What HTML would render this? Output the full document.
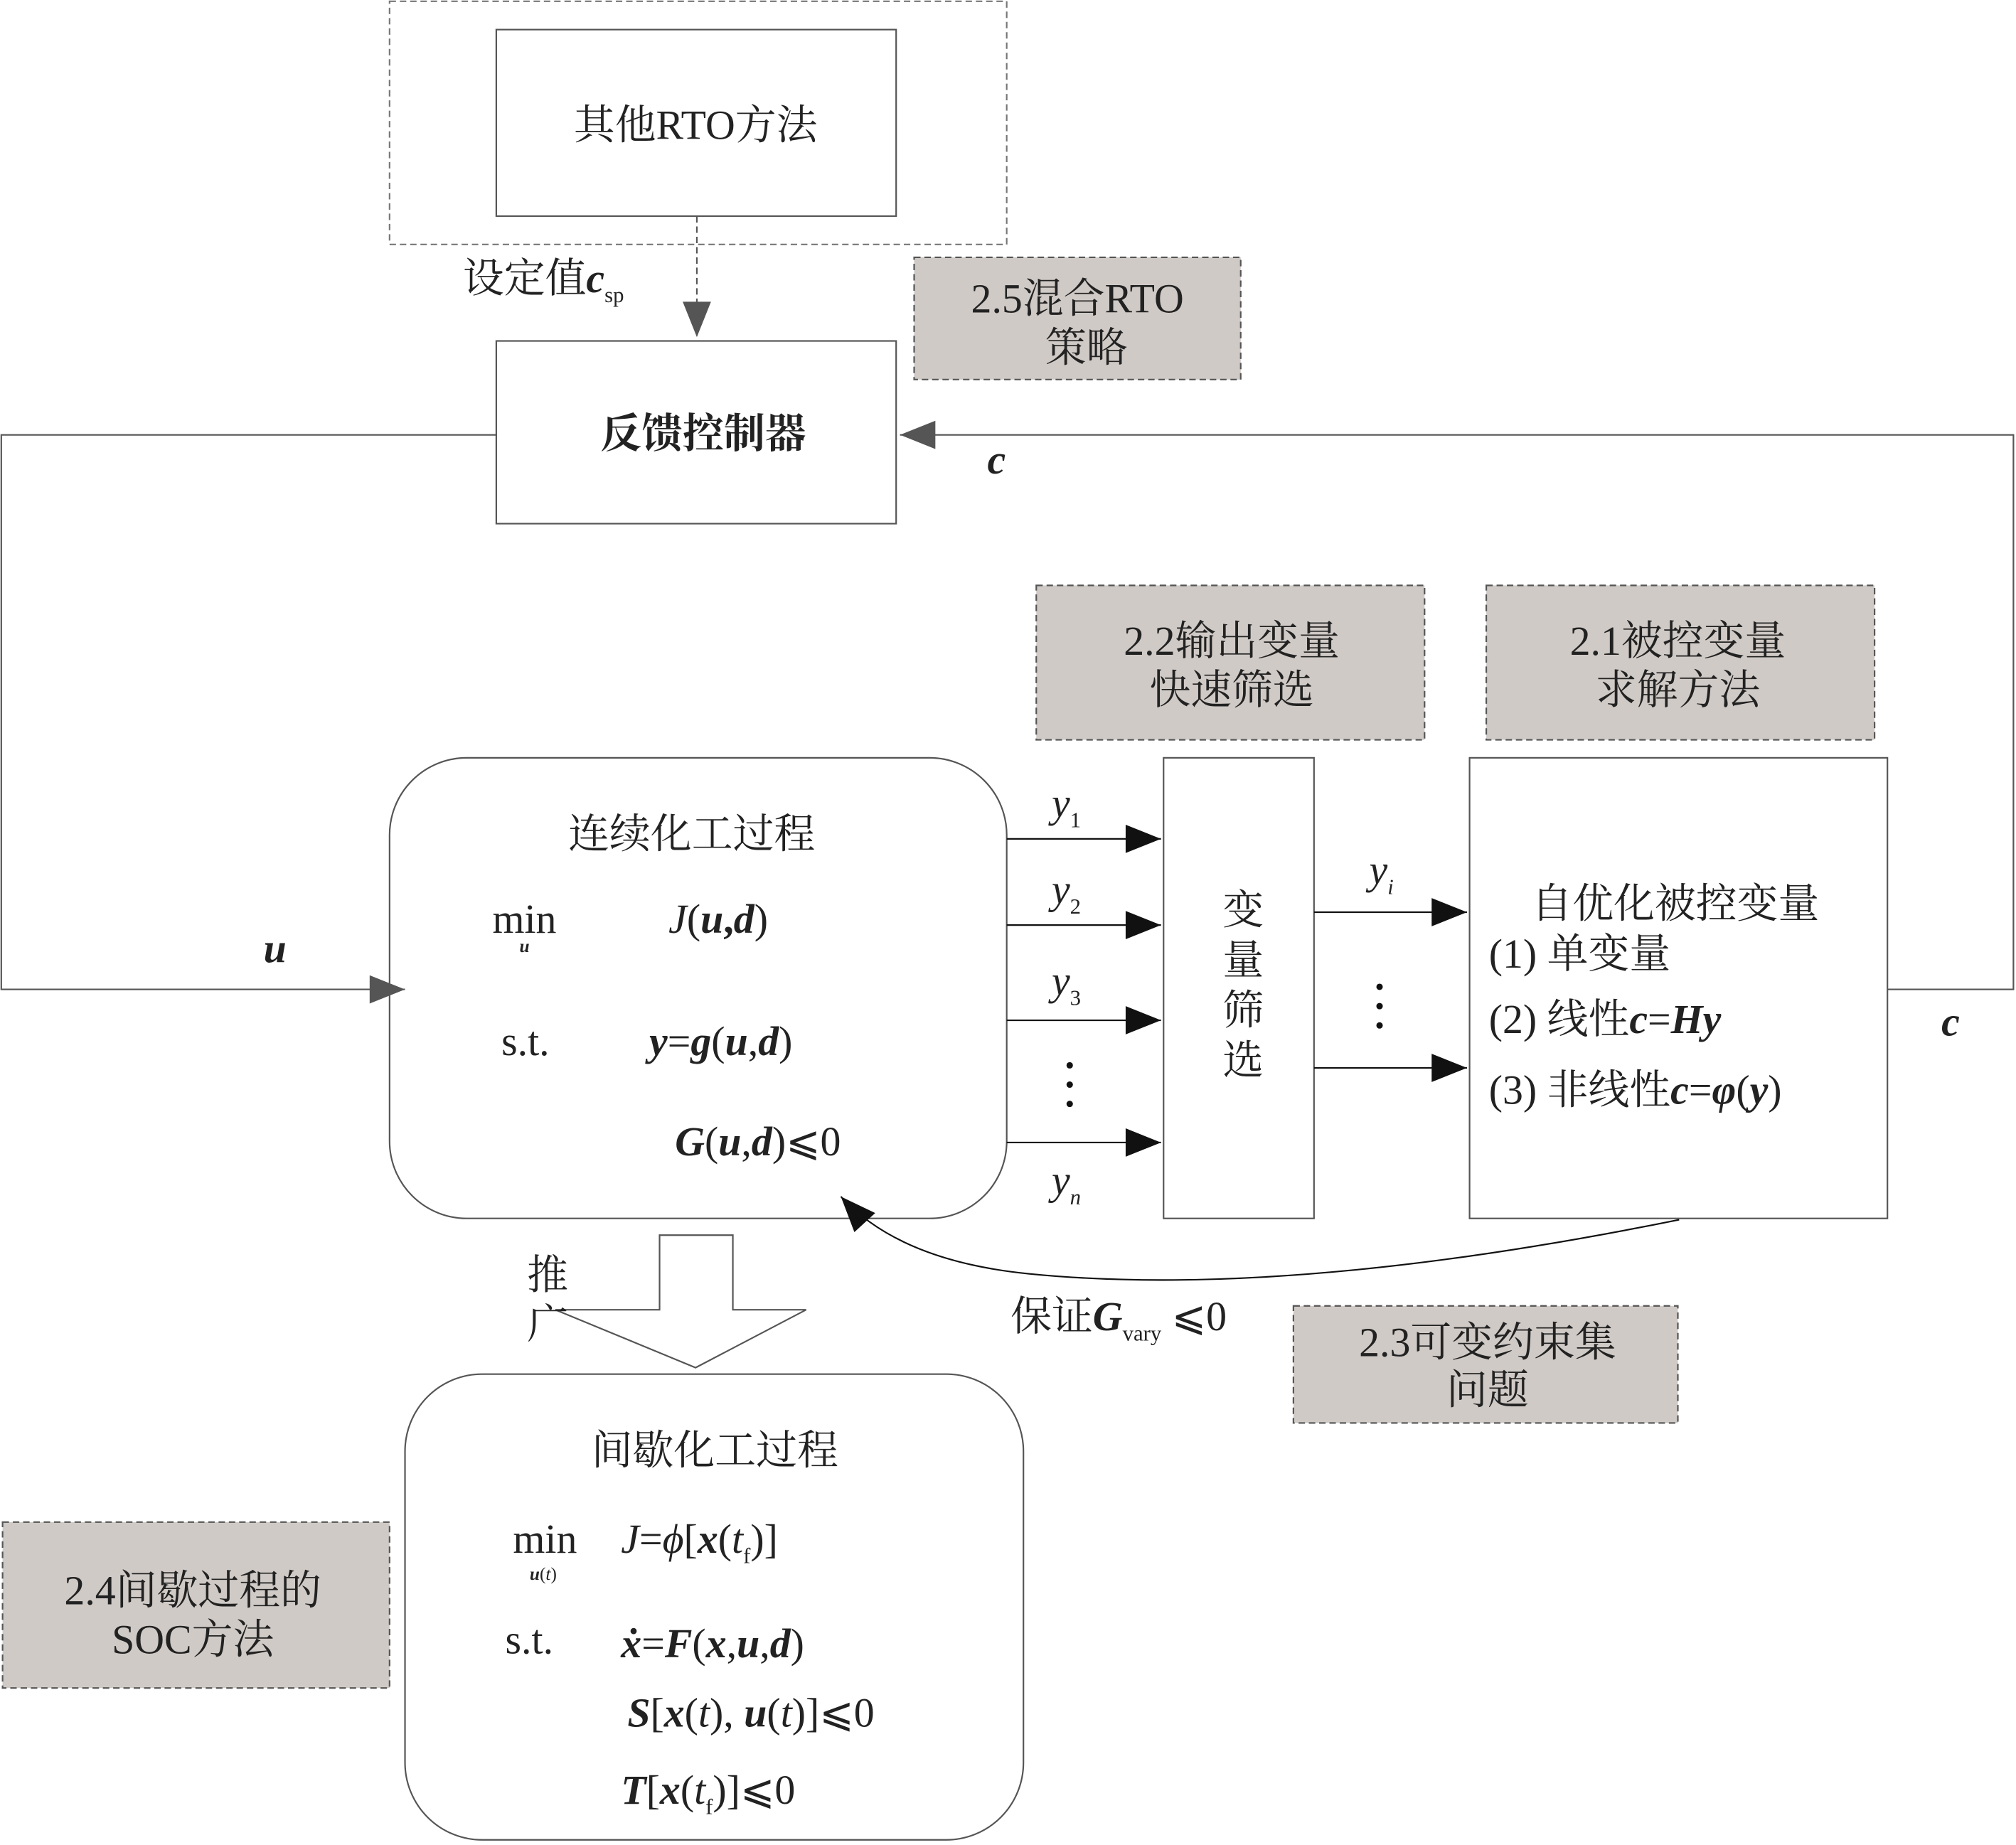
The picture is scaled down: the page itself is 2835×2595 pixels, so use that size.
<!DOCTYPE html>
<html><head><meta charset="utf-8"><style>
html,body{margin:0;padding:0;background:#fff}
svg{display:block}
text{font-family:"Liberation Serif","Noto Serif CJK SC","Noto Sans CJK SC",serif;fill:#222}
.b{font-weight:bold;font-style:italic}
.i{font-style:italic}
</style></head><body>
<svg width="2835" height="2595" viewBox="0 0 1568 1434" preserveAspectRatio="none" xmlns="http://www.w3.org/2000/svg">
<defs>
<marker id="ar" markerWidth="10" markerHeight="8" refX="10" refY="4" orient="auto" markerUnits="userSpaceOnUse" viewBox="0 0 10 8"><path d="M0,0 L10,4 L0,8z" fill="#111"/></marker>
<marker id="arb" viewBox="0 0 10 8" markerWidth="34" markerHeight="22" refX="10" refY="4" orient="auto" markerUnits="userSpaceOnUse"><path d="M0,0 L10,4 L0,8z" fill="#111"/></marker>
<marker id="arg" viewBox="0 0 10 8" markerWidth="34" markerHeight="22" refX="10" refY="4" orient="auto" markerUnits="userSpaceOnUse"><path d="M0,0 L10,4 L0,8z" fill="#555"/></marker>
</defs>
<g fill="none" stroke="#555" stroke-width="1.2">
<rect x="303" y="1" width="480" height="189" stroke-dasharray="5,3" stroke="#777"/>
<rect x="386" y="23" width="311" height="145"/>
<rect x="386" y="265" width="311" height="142"/>
<line x1="542" y1="168" x2="542" y2="262" stroke-dasharray="5,3" marker-end="url(#arg)"/>
<polyline points="386,338 1,338 1,769 315,769" marker-end="url(#arg)"/>
<polyline points="1468,769 1566,769 1566,338 700,338" marker-end="url(#arg)"/>
<rect x="303" y="589" width="480" height="358" rx="60"/>
<rect x="905" y="589" width="117" height="358"/>
<rect x="1143" y="589" width="325" height="358"/>
<rect x="315" y="1068" width="481" height="362" rx="60"/>
<path d="M513,960 L570,960 L570,1018 L627,1018 L541,1063 L432,1018 L513,1018 Z"/>
</g>
<g fill="#d0cac6" stroke="#555" stroke-width="1.2" stroke-dasharray="5,3">
<rect x="711" y="200" width="254" height="95"/>
<rect x="806" y="455" width="302" height="120"/>
<rect x="1156" y="455" width="302" height="120"/>
<rect x="1006" y="1015" width="299" height="91"/>
<rect x="2" y="1183" width="301" height="129"/>
</g>
<g stroke="#111" stroke-width="1.2" fill="none">
<line x1="783" y1="652" x2="903" y2="652" marker-end="url(#arb)"/>
<line x1="783" y1="719" x2="903" y2="719" marker-end="url(#arb)"/>
<line x1="783" y1="793" x2="903" y2="793" marker-end="url(#arb)"/>
<line x1="783" y1="888" x2="903" y2="888" marker-end="url(#arb)"/>
<line x1="1022" y1="709" x2="1141" y2="709" marker-end="url(#arb)"/>
<line x1="1022" y1="830" x2="1141" y2="830" marker-end="url(#arb)"/>
<path d="M1306,948 Q1000,1010 800,990 Q700,980 654,930" marker-end="url(#arb)"/>
</g>
<g font-size="32">
<text x="541" y="108" text-anchor="middle">其他RTO方法</text>
<text x="547" y="348" text-anchor="middle" font-weight="bold">反馈控制器</text>
<text x="360" y="227">设定值<tspan class="b">c</tspan><tspan font-size="17" dy="8">sp</tspan></text>
<text x="838" y="243" text-anchor="middle">2.5混合RTO</text>
<text x="845" y="281" text-anchor="middle">策略</text>
<text x="958" y="509" text-anchor="middle">2.2输出变量</text>
<text x="958" y="547" text-anchor="middle">快速筛选</text>
<text x="1305" y="509" text-anchor="middle">2.1被控变量</text>
<text x="1305" y="547" text-anchor="middle">求解方法</text>
<text x="538" y="659" text-anchor="middle">连续化工过程</text>
<text x="383" y="725">min</text>
<text x="404" y="740" font-size="14" class="b">u</text>
<text x="520" y="725" class="i">J<tspan font-style="normal">(</tspan><tspan class="b">u</tspan><tspan font-style="normal" font-weight="bold">,</tspan><tspan class="b">d</tspan><tspan font-style="normal">)</tspan></text>
<text x="390" y="820">s.t.</text>
<text x="505" y="820"><tspan class="b">y</tspan>=<tspan class="b">g</tspan>(<tspan class="b">u</tspan>,<tspan class="b">d</tspan>)</text>
<text x="525" y="898"><tspan class="b">G</tspan>(<tspan class="b">u</tspan>,<tspan class="b">d</tspan>)⩽0</text>
<text x="205" y="748" class="b">u</text>
<text x="768" y="368" class="b">c</text>
<text x="1510" y="805" class="b">c</text>
<text x="818" y="635" class="i">y<tspan font-size="17" dy="8" font-style="normal">1</tspan></text>
<text x="818" y="702" class="i">y<tspan font-size="17" dy="8" font-style="normal">2</tspan></text>
<text x="818" y="773" class="i">y<tspan font-size="17" dy="8" font-style="normal">3</tspan></text>
<text x="818" y="928" class="i">y<tspan font-size="17" dy="8">n</tspan></text>
<text x="1065" y="687" class="i">y<tspan font-size="17" dy="8">i</tspan></text>
<text x="967" y="718" text-anchor="middle">变</text>
<text x="967" y="757" text-anchor="middle">量</text>
<text x="967" y="796" text-anchor="middle">筛</text>
<text x="967" y="835" text-anchor="middle">选</text>
<text x="1303" y="713" text-anchor="middle">自优化被控变量</text>
<text x="1158" y="752">(1) 单变量</text>
<text x="1158" y="803">(2) 线性<tspan class="b">c</tspan>=<tspan class="b">Hy</tspan></text>
<text x="1158" y="858">(3) 非线性<tspan class="b">c</tspan>=<tspan class="b">φ</tspan>(<tspan class="b">y</tspan>)</text>
<text x="786" y="1034">保证<tspan class="b">G</tspan><tspan font-size="17" dy="8">vary</tspan><tspan dy="-8"> ⩽0</tspan></text>
<text x="1157" y="1054" text-anchor="middle">2.3可变约束集</text>
<text x="1157" y="1091" text-anchor="middle">问题</text>
<text x="410" y="1002">推</text>
<text x="410" y="1040">广</text>
<text x="556" y="1138" text-anchor="middle">间歇化工过程</text>
<text x="399" y="1207">min</text>
<text x="412" y="1228" font-size="14"><tspan class="b">u</tspan>(<tspan class="i">t</tspan>)</text>
<text x="483" y="1207"><tspan class="i">J</tspan>=<tspan class="i">ϕ</tspan>[<tspan class="b">x</tspan>(<tspan class="i">t</tspan><tspan font-size="17" dy="8">f</tspan><tspan dy="-8">)]</tspan></text>
<text x="393" y="1285">s.t.</text>
<text x="483" y="1288"><tspan class="b">ẋ</tspan>=<tspan class="b">F</tspan>(<tspan class="b">x</tspan>,<tspan class="b">u</tspan>,<tspan class="b">d</tspan>)</text>
<text x="488" y="1342"><tspan class="b">S</tspan>[<tspan class="b">x</tspan>(<tspan class="i">t</tspan>), <tspan class="b">u</tspan>(<tspan class="i">t</tspan>)]⩽0</text>
<text x="483" y="1402"><tspan class="b">T</tspan>[<tspan class="b">x</tspan>(<tspan class="i">t</tspan><tspan font-size="17" dy="8">f</tspan><tspan dy="-8">)]⩽0</tspan></text>
<text x="150" y="1247" text-anchor="middle">2.4间歇过程的</text>
<text x="150" y="1285" text-anchor="middle">SOC方法</text>
</g>
<g fill="#111">
<circle cx="832" cy="828" r="2.5"/><circle cx="832" cy="843" r="2.5"/><circle cx="832" cy="858" r="2.5"/>
<circle cx="1073" cy="767" r="2.5"/><circle cx="1073" cy="782" r="2.5"/><circle cx="1073" cy="797" r="2.5"/>
</g>
</svg>
</body></html>
